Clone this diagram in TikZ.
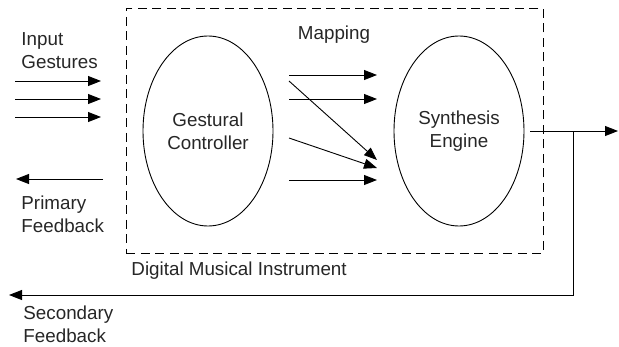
\documentclass[tikz,border=0pt]{standalone}
\usepackage{fontspec}
\setmainfont{Liberation Sans}
\usetikzlibrary{arrows.meta,shapes.geometric}
\begin{document}
\begin{tikzpicture}[x=1pt,y=-1pt,
  line width=0.9pt,
  arr/.style={-{Triangle[length=13pt,width=10pt]}},
  oval/.style={draw,ellipse,minimum width=130pt,minimum height=190pt,inner sep=0pt,align=center},
  lbl/.style={align=left,inner sep=0pt,anchor=west},
  every node/.style={font=\fontsize{18.8pt}{23pt}\selectfont,text=black!85}]
\useasboundingbox (0,0) rectangle (619,346);
% instrument box
\node[draw,dash pattern=on 9pt off 5.5pt,line width=0.8pt,minimum width=417pt,minimum height=245pt,inner sep=0pt,anchor=north west] (dmi) at (126,8) {};
\node[oval] (gc) at (208,131) {Gestural\\Controller};
\node[oval] (se) at (459,131) {Synthesis\\Engine};
\node[inner sep=0pt] (map) at (334,35) {Mapping};
\node[lbl] (inp) at (21,51) {Input\\Gestures};
\node[lbl] (pri) at (21,214) {Primary\\Feedback};
\node[lbl] (dmil) at (131,271) {Digital Musical Instrument};
\node[lbl] (sec) at (23,324) {Secondary\\Feedback};
% input arrows
\coordinate (i1) at (15,81); \coordinate (i2) at (15,99); \coordinate (i3) at (15,117);
\coordinate (j1) at (101,81); \coordinate (j2) at (101,99); \coordinate (j3) at (101,117);
\draw[arr] (i1) -- (j1);
\draw[arr] (i2) -- (j2);
\draw[arr] (i3) -- (j3);
% primary feedback
\coordinate (p0) at (103,179); \coordinate (p1) at (16,179);
\draw[arr] (p0) -- (p1);
% mapping arrows
\coordinate (m1) at (289,75); \coordinate (n1) at (377,75);
\coordinate (m2) at (289,99); \coordinate (n2) at (377,99);
\coordinate (m3) at (289,81); \coordinate (n3) at (377,160);
\coordinate (m4) at (289,138); \coordinate (n4) at (377,168);
\coordinate (m5) at (289,180); \coordinate (n5) at (377,180);
\draw[arr] (m1) -- (n1);
\draw[arr] (m2) -- (n2);
\draw[arr] (m3) -- (n3);
\draw[arr] (m4) -- (n4);
\draw[arr] (m5) -- (n5);
% output
\coordinate (out) at (618,131);
\coordinate (br) at (573,131);
\coordinate (bl) at (573,295);
\coordinate (sf) at (9,295);
\draw[arr] ([xshift=6pt]se.east) -- (out);
\draw[arr] (br) -- (bl) -- (sf);
\end{tikzpicture}
\end{document}
